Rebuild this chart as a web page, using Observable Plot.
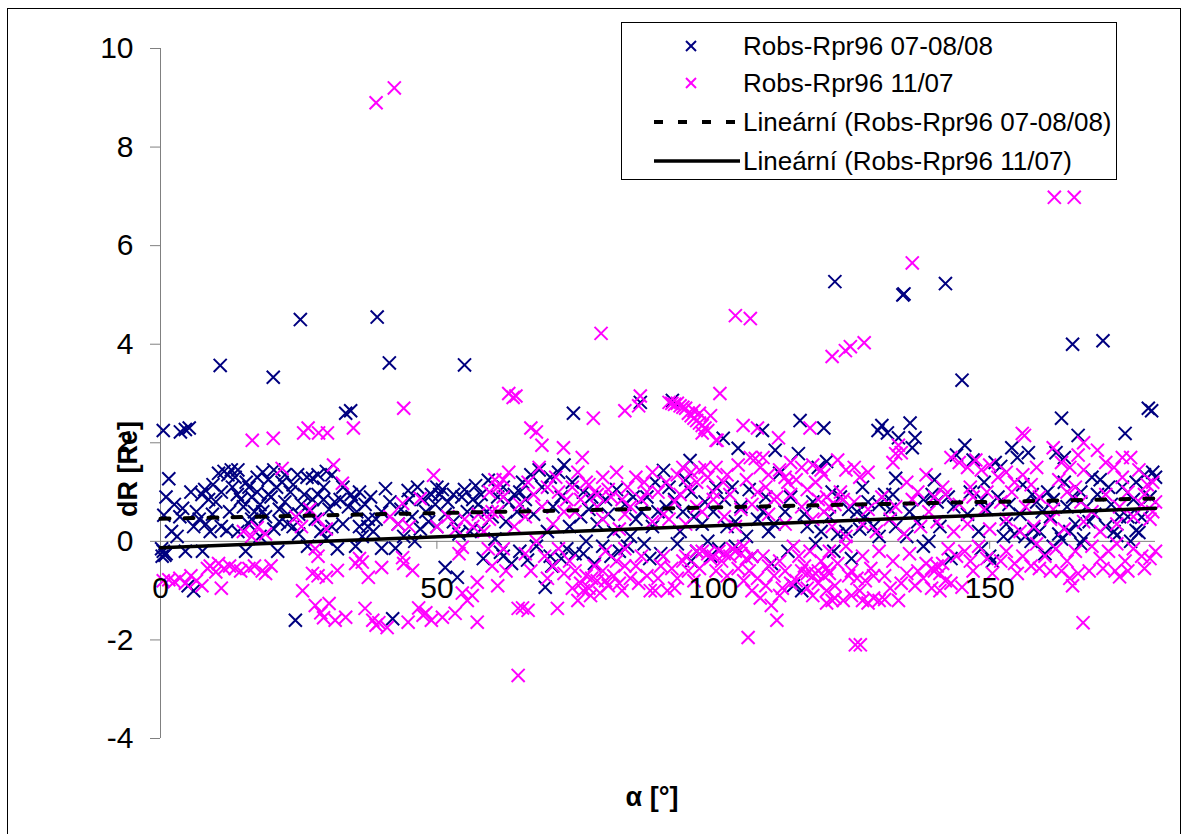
<!DOCTYPE html>
<html><head><meta charset="utf-8">
<script src="https://cdn.jsdelivr.net/npm/d3@7"></script>
<script src="https://cdn.jsdelivr.net/npm/@observablehq/plot@0.6"></script>
<style>
body{margin:0;background:#fff;font-family:"Liberation Sans",Arial,sans-serif;}
#wrap{position:relative;width:1188px;height:834px;overflow:hidden;background:#fff;}
#border{position:absolute;left:7px;top:8px;width:1174px;height:900px;border:1.5px solid #000;box-sizing:border-box;}
#chart{position:absolute;left:0;top:0;}
#legend{position:absolute;left:621px;top:22px;width:496px;height:158px;border:1px solid #000;background:#fff;box-sizing:border-box;}
.lg{position:absolute;left:121px;font-size:26px;line-height:30px;white-space:nowrap;color:#000;}
.title{position:absolute;font-weight:bold;font-size:27px;line-height:32px;white-space:nowrap;color:#000;}
</style></head>
<body>
<div id="wrap"><div id="border"></div><div id="chart"></div><div id="legend"></div>
<div id="ytitle" class="title"></div><div id="xtitle" class="title"></div></div>
<script>
// ---- data (alpha [deg], dR [Re]) ----
const seriesNames = ["Robs-Rpr96 07-08/08", "Robs-Rpr96 11/07", "Lineární (Robs-Rpr96 07-08/08)", "Lineární (Robs-Rpr96 11/07)"];
const xTicks = [0, 50, 100, 150];
const yTicks = [-4, -2, 0, 2, 4, 6, 8, 10];
const xTitle = "α [°]";
const yTitle = "dR [Re]";

const navy = [
[0.3,-0.3],[0.5,-0.2],[0.8,-0.28],[0.2,-0.15],[1.0,-0.25],[0.6,0.53],[1.5,1.27],[0.5,2.25],[3.6,2.22],[4.5,2.27],[5.2,2.3],[4.5,-0.2],[5,-0.9],[6,-1.0],[4,0.67],[7.6,-0.2],[7.5,0.95],[8,1.05],[8.7,0.85],[7,0.45],[8.2,0.35],[9.4,0.55],[9,0.2],[11,0.3],[12,0.22],[10.8,3.57],[10.5,1.38],[11.5,1.42],[12.2,1.35],[12.8,1.45],[13.5,1.3],[13.9,0.95],[14.5,0.85],[15.4,-0.2],[15,0.7],[16,1.1],[16.5,0.9],[17,0.6],[17.5,1.0],[18,0.75],[18.5,1.4],[19,0.5],[19.5,1.25],[20.4,3.33],[20,0.9],[21,1.1],[21.2,-0.2],[21.5,0.4],[22,1.2],[22.5,0.8],[23,0.55],[23.5,1.0],[24,0.3],[24.4,-1.6],[24.8,1.35],[25.3,4.5],[25.5,0.75],[26,0.95],[26.6,-0.1],[27,0.6],[27.5,1.28],[28,0.45],[28.5,1.35],[29,0.2],[29.5,0.85],[30,1.42],[30.5,0.65],[31,0.3],[32,-0.15],[32.5,0.85],[33.5,2.6],[34.4,2.65],[34,0.7],[34.5,0.95],[35.3,-0.1],[35.5,0.6],[36,0.3],[37,0.75],[37.6,0.45],[38.5,0.2],[39.2,4.55],[40,-0.14],[40.7,1.07],[41.4,3.62],[42,-1.57],[42.5,-0.14],[43,0.35],[44.8,1.03],[45.5,0.5],[46,0.0],[47,0.25],[48,0.6],[49.7,0.75],[50.5,0.95],[51,1.05],[51.5,-0.53],[52,0.8],[53,0.4],[53.7,-0.73],[54.5,0.9],[55,3.58],[55.5,0.6],[56,0.2],[57,1.13],[57.5,0.75],[58.4,-0.35],[59.3,1.24],[60,0.5],[60.5,0.05],[61.5,-0.22],[62.5,0.4],[63,0.8],[64,0.95],[65,1.0],[65.5,1.2],[66.4,-0.38],[67,1.35],[67.5,0.55],[68.5,1.45],[69.6,-0.93],[70,0.2],[70.5,-0.3],[71,0.7],[72,1.4],[73,1.55],[73.5,-0.15],[74,0.3],[74.7,2.6],[75,-0.25],[76,0.5],[77,0.0],[78,0.9],[79,0.35],[80,-0.1],[81,0.55],[82,0.2],[83,-0.2],[84,0.75],[85,0.1],[86,0.45],[86.8,2.82],[87.5,-0.05],[88,0.9],[89,0.3],[90,0.6],[91,1.44],[92,1.1],[92.6,2.86],[93,0.85],[94,0.2],[95,1.25],[95.8,1.64],[96.5,0.5],[97,-0.2],[98,0.35],[99,0.0],[100,0.6],[101,-0.15],[101.8,2.09],[102.5,0.3],[103.4,1.1],[104.5,1.89],[105,0.7],[106,0.1],[107,-0.3],[108,0.45],[108.9,2.25],[109.5,0.9],[110,0.2],[111.2,1.85],[112,1.38],[113,0.6],[114.5,-0.9],[115.4,1.78],[115.7,2.45],[116,-1.0],[117,0.3],[118,0.8],[119,1.5],[120,2.3],[120.5,1.62],[121,0.5],[121.8,-0.2],[122,5.27],[123,0.9],[124,0.2],[125,-0.35],[126,0.6],[127,1.1],[128,0.8],[129,0.3],[129.8,2.25],[130.5,2.35],[131,0.95],[131.5,2.2],[132,0.65],[133,1.28],[133.5,2.1],[134.3,5.0],[134.5,5.02],[135,0.1],[135.6,2.4],[136,1.9],[136.5,2.1],[137,0.4],[138,-0.1],[139,0.0],[139.6,0.95],[140.5,0.8],[141,0.3],[142,5.23],[142.5,0.9],[143,-0.35],[144,1.75],[145,3.27],[145.5,1.95],[146,0.55],[147,1.65],[148,0.2],[148.6,0.85],[149.5,0.65],[150.5,-0.4],[151,1.6],[152,1.52],[152.5,0.1],[153,0.35],[154,1.9],[155,1.7],[155.5,0.55],[156.4,0.1],[157,1.8],[157.7,0.95],[158.5,0.8],[159,0.2],[160,-0.25],[160.5,1.0],[161,0.5],[162,1.8],[162.5,0.15],[163,2.5],[163.5,1.7],[164,0.7],[165,4.0],[165.5,0.35],[166,2.15],[166.5,1.0],[167,0.05],[168,0.4],[168.5,1.3],[169,0.55],[170,1.25],[170.5,4.07],[171,0.3],[172,0.75],[173,0.12],[174,1.1],[174.5,2.19],[175,0.5],[176,0.85],[177,0.18],[177.5,0.49],[178,1.35],[178.7,2.7],[179.3,2.65],[179.5,1.4],[180,1.3],
[62,-0.3],[63.5,-0.45],[65,-0.2],[68,-0.1],[70.8,-0.5],[72.5,-0.35],[76.5,-0.25],[78.5,-0.45],[81.5,-0.3],[84.5,-0.1],[88.5,-0.35],[90.5,-0.25],[93.5,-0.05],[96,-0.4],[99.5,-0.3],[104,-0.1],[110.5,-0.45],[113.5,-0.2],[118.5,-0.05],[122.5,0.15],[126.5,0.25],[130,0.1],[133,0.3],[148.5,-0.15],[150,-0.3],[154.5,0.15],[157.5,0.0],[158,0.25],[161.5,-0.1],[163,0.05],[164.5,0.2],[166.5,-0.05],[172.5,0.2],[175.5,0.0],[176.5,0.22],[2,0.2],[3,0.1],[6.5,0.6],[14,0.2],[16,0.35],[18,0.1],[20.5,0.25],[25,0.15],[30,0.05],[33,0.35],[36.5,0.1],[39,0.45],[44,0.1],[47.5,0.85],[50,0.3],[54,0.15],[58,0.25],
[1,0.9],[2.5,0.75],[3.5,0.5],[5.5,1.0],[6,0.3],[9.5,1.15],[10,0.8],[11,1.0],[12.5,0.6],[13,1.1],[14,1.45],[15.5,1.2],[16.5,0.45],[17.5,1.3],[18.5,0.6],[19.5,0.95],[20.5,1.45],[21.5,0.65],[22.5,1.35],[23,0.35],[24,1.15],[25,0.55],[26.5,1.3],[27.5,0.85],[28.5,0.95],[29.5,1.1],[31,1.35],[31.5,0.8],[33,1.1],[35,0.85],[36,1.0],[37.5,0.3],[38,0.9],[40,0.6],[41.5,0.8],[43.5,0.65],[45,0.85],[46.5,1.1],[48.5,0.4],[49,0.95],[50,1.1],[51.5,0.55],[53,0.95],[55,1.05],[56.5,0.85],[58,0.95],[59,0.6],
[61,0.9],[62,1.1],[64.5,0.6],[66,0.85],[69,1.1],[70.5,1.3],[72.5,0.9],[74.5,1.2],[76.5,1.0],[77.5,0.65],[80.5,0.85],[82.5,1.05],[85.5,0.9],[87,0.6],[89.5,1.2],[91.5,0.7],[94.5,0.6],[96,1.0],[98.5,0.8],[100.5,1.1],[102,0.85],[104,0.4],[106.5,1.05],[109,0.6],[111,0.35],[114,0.9],[116.5,0.55],[119.5,0.2],
[121.5,1.0],[124.5,0.65],[127.5,0.5],[130,0.75],[132.5,0.95],[135.5,0.6],[138,0.85],[140,1.25],[143.5,0.7],[146.5,1.0],[149,1.2],[151.5,0.9],[153.5,0.75],[156,1.15],[159.5,0.6],[161.5,0.85],[163.5,1.2],[165,0.9],[167.5,0.7],[169.5,0.95],[171.5,1.1],[173.5,0.5],[176.5,1.2],[179,0.9]
];

const pink = [
[0.5,-0.8],[1.5,-0.78],[2.5,-0.82],[3.5,-0.75],[4.5,-0.85],[5.5,-0.7],[6.5,-0.8],[7.5,-0.9],[8.5,-0.55],[9,-0.5],[10,-0.62],[10.5,-0.45],[11,-0.95],[11.5,-0.55],[12.5,-0.5],[13.5,-0.55],[14.5,-0.6],[16,-0.55],[17,-0.5],[18.4,-0.6],[19,-0.65],[20,-0.5],
[15,0.2],[16.5,0.1],[17.5,0.28],[19,0.15],
[25.7,-1.0],[27.5,-0.65],[28.5,-0.7],[30,-0.73],[28,-1.3],[29,-1.45],[30.5,-1.26],[31.6,-1.6],[29.5,-1.55],[32,-0.59],[33.5,-1.54],[35.3,-0.45],[36.5,-0.42],[37,-1.36],[37.6,-0.73],[38.4,-1.6],[39,-1.7],[39.5,-1.65],[40,-0.53],[41,-1.75],[43.8,-0.33],[44,-0.45],[44.8,-1.64],[45.6,-0.59],[46.7,-1.35],[47.5,-1.5],[48,-1.45],[49,-1.6],[51,-1.54],[53.3,-1.46],[54.6,-1.05],[55.5,-1.2],[56.4,-1.1],[57.3,-1.64],[57.3,-0.83],[54.6,-0.12],[59.3,-0.15],[28,-0.15],[28.5,-0.3],[36,-0.35],[54,-0.25],
[16.6,2.05],[20.4,2.09],[25.9,2.2],[26.7,2.3],[28.6,2.2],[30.2,2.2],[34.9,2.3],[44,2.7],[31.3,1.55],[32.9,1.18],[22,1.48],[49.4,1.34],[43.8,0.77],[47,0.87],[39,8.9],[42.3,9.2],
[24.5,0.5],[25.5,0.3],[27,0.65],[28.5,0.45],[30,0.25],[41.5,0.5],[43,0.35],[45,0.3],[50,0.3],[52,0.5],[53.5,0.25],[55,0.45],[56.5,0.3],[57.5,0.55],[58.5,0.2],[59.5,0.45],[60,0.6],[59.5,1.0],[60.5,1.25],
[63,3.0],[63.8,2.92],[64.3,2.95],[67,2.3],[68,2.22],[69,1.95],[72.9,1.9],[76.3,1.7],[78.3,2.5],[79.7,4.22],[84,2.65],[86.5,2.75],[86.8,2.95],
[92,2.82],[92.5,2.8],[93,2.78],[93.5,2.8],[94,2.75],[94.5,2.72],[95,2.7],[95.5,2.6],[96,2.55],[96.5,2.5],[97,2.45],[97.5,2.4],[98,2.35],[98.5,2.3],[99,2.25],[99.5,2.55],[97.5,2.6],[96.5,2.65],[98,2.2],[100.5,2.05],[101.2,3.0],
[104,4.58],[106.7,4.52],[105.4,2.35],[108,2.3],[111.8,2.1],[117.5,2.3],[107.6,1.68],[100.7,2.05],
[61,1.1],[62,1.25],[72,1.0],[73.5,0.85],[75.5,1.4],[77,1.2],[78.5,1.0],[77.5,1.15],[79,0.95],[82.5,1.4],[84.5,1.1],[86,1.3],[88,1.0],[94.5,1.5],[96,1.4],[97.5,1.45],[99,1.3],[100.5,1.5],[101.8,1.2],[97,1.2],[100,1.0],[106.7,1.7],[108.5,1.5],[110,1.35],[112,1.45],[113,1.3],[114,1.6],[116,1.5],[118,1.55],[119.5,1.45],[109.5,1.1],[111.5,0.9],[113.5,1.2],
[63,1.4],[66.5,1.2],[68.5,1.5],[71.5,1.3],[74.5,1.1],[80,1.3],[81,1.05],[83.5,0.85],[87.5,1.2],[89,1.4],[91.5,1.2],[93.5,1.35],[95.5,1.1],[98.5,1.5],[102.5,1.35],[104.5,1.55],[106,1.25],[109,1.7],[115,1.25],[118.5,1.2],[120,1.35],
[61,0.6],[64,0.3],[66,0.5],[69,0.7],[71,0.35],[75,0.6],[80,0.45],[83,0.25],[85,0.7],[89,0.4],[91,0.55],[93,0.8],[95,0.35],[98,0.6],[102,0.5],[104,0.3],[107,0.75],[110,0.55],[113,0.35],[116,0.7],[118,0.45],[120,0.6],
[62,0.9],[65,0.75],[67.5,0.95],[70,1.1],[73,0.6],[76,0.85],[79,0.7],[81.5,0.9],[84,0.55],[87,0.85],[90,1.0],[92,0.45],[94,0.95],[97,0.7],[100,0.85],[103,0.95],[105,0.65],[108,1.0],[111,0.85],[114,0.95],[117,1.05],[119,0.85],
[60,-0.5],[61,-0.9],[62.5,-0.6],[68,0.0],[69.5,-0.3],[71,-0.5],[72,-0.15],[73,-0.65],[74,-0.4],[75,-0.6],[76,-0.85],[77,-0.7],[77.5,-0.95],[78,-0.75],[79,-0.8],[80,-0.6],[81,-0.9],[82,-0.7],[83,-0.85],[84,-0.5],[85,-0.75],[76.5,-1.0],[79.5,-1.05],[75.5,-1.2],[77.8,-1.1],
[80.5,-0.2],[82.5,-0.4],[84,-0.15],[86,-0.5],[87,-0.3],[88,-0.7],[89.5,-1.0],[90.5,-0.5],[88.6,-1.0],[91.7,-1.0],[91,-0.3],[92.5,-0.55],[93.5,-0.75],[94.5,-0.4],[95.5,-0.6],[96.5,-0.8],[97,-0.2],
[98,-0.2],[99,-0.25],[100,-0.3],[101,-0.2],[102,-0.25],[103,-0.3],[104,-0.2],[105,-0.25],[106,-0.35],[107,-0.3],[99.5,-0.35],[101.5,-0.4],[103.5,-0.15],[105.5,-0.1],
[105.5,-0.8],[107,-1.0],[108.5,-1.15],[109.5,-0.9],[110.5,-1.3],[111.5,-1.6],[112.5,-0.95],[109,-0.3],[110,-0.5],[111,-0.7],[112,-0.4],[113,-0.6],[114,-0.85],
[114.5,-0.1],[115.5,-0.3],[116.5,-0.5],[117.5,-0.2],[118.5,-0.65],[119.5,-0.4],[120.5,-0.55],[116,-0.6],[117,-0.65],[118,-0.7],[119,-0.6],[120,-0.7],[121,-0.65],[118,-1.1],[120.5,-1.25],
[62,-0.15],[66,-0.25],[67,-0.6],[70,-0.75],[74.5,-0.95],[78.5,-0.5],[80.5,-0.8],[83.5,-1.0],[86.5,-0.85],[90,-0.75],[93,-0.95],[95,-0.3],[97.5,-0.55],[100.5,-0.6],[102.5,-0.7],[104.5,-0.55],[106.5,-0.6],[108,-0.75],[112,-1.1],[115,-0.8],[117,-0.95],[119,-0.85],
[64.7,-2.72],[64.7,-1.36],[65.5,-1.35],[66.5,-1.4],[71.8,-1.36],[106.3,-1.95],
[121.5,3.75],[123.9,3.87],[124.8,3.95],[127.3,4.03],[136,5.65],[161.7,6.98],[165.3,6.98],
[155.9,2.19],[156.3,2.15],[132.5,1.6],[133.5,1.95],[134,1.8],[122.5,1.65],[124,1.45],[125.5,1.5],[126.5,1.3],[128,1.4],[120.5,0.9],[122,0.75],[123.5,0.85],
[143,1.7],[144.5,1.6],[146,1.5],[147.5,1.65],[148.5,1.45],[146.5,1.1],[149.5,1.0],[150,1.55],[151.5,1.3],[153,1.4],[154.5,1.2],[156,1.35],[157.5,1.15],[158.5,1.5],
[161.5,1.9],[163,1.6],[164.5,1.5],[166,1.75],[167,1.45],[162.5,1.25],[165.5,1.1],[167,2.0],
[169.5,1.85],[171,1.6],[172.5,1.5],[174,1.3],[174,1.7],[175.5,1.7],[177,1.45],[178.5,1.15],[179.5,1.2],[178,0.95],[180,0.8],
[135,1.2],[137,1.0],[138.5,1.35],[140,0.9],[141.5,1.1],[133,1.78],
[121,-0.2],[122.5,-0.45],[124,-0.1],[125,-0.6],[126,-0.75],[127,-0.3],[128.5,-0.55],[130,-0.2],[131,-0.7],[132.5,-0.4],[134,-0.85],[135.5,-0.25],[137,-0.6],
[138.5,-0.45],[139.5,-0.55],[140,-0.6],[140.5,-0.5],[141,-0.65],[141.5,-0.45],[139.5,-0.95],[141,-1.0],[143,-0.85],[145,-0.93],[142.5,-0.15],[144,-0.3],[145.5,-0.2],[146.5,-0.4],[148,-0.1],[149.5,-0.35],
[153,-0.2],[154.5,-0.45],[156,-0.3],[157.5,-0.5],[158.5,-0.05],[160,-0.3],[162,-0.15],[164,-0.4],[165.5,-0.2],[163,-0.6],[164.5,-0.75],[165,-0.9],[166,-0.65],
[168.5,-0.1],[170,-0.35],[171.5,-0.2],[173,-0.05],[174.5,-0.4],[176,-0.15],[177.5,-0.3],[179,-0.35],[180,-0.2],[172.7,-0.6],[173.5,-0.72],[166.9,-1.65],[125.7,-2.1],[126.6,-2.1],
[122,-1.15],[123.5,-1.2],[125,-1.1],[127,-1.2],[128,-1.25],[129,-1.15],[130,-1.2],[131,-1.18],[133.5,-1.2],[124.5,-0.7],[127.5,-0.8],[120.5,-1.0],[121.5,-1.2],
[122,-0.9],[126.5,-1.0],[129,-0.7],[132,-0.95],[135,-0.65],[136.5,-0.9],[138,-0.75],[142,-0.8],[147,-0.6],[150.5,-0.65],[152,-0.4],[155,-0.65],[159,-0.55],[161,-0.6],[168,-0.6],[170.5,-0.55],[175,-0.6],[178,-0.55],
[121.5,0.3],[124,0.1],[127,0.35],[129.5,0.2],[132,0.45],[134.5,0.15],[137.5,0.3],[140.5,0.4],[143.5,0.2],[146,0.35],[150,0.25],[153,0.45],[155.5,0.2],[158,0.3],[161,0.45],[163.5,0.25],[167,0.4],[170,0.2],[173,0.35],[176,0.5],[179,0.45],
[121,0.7],[123,1.0],[125.5,0.8],[128,0.65],[130.5,0.9],[133,0.7],[136,0.85],[139,0.6],[142,0.95],[144.5,0.75],[147,0.9],[149,0.65],[152,0.8],[154,1.0],[156.5,0.7],[159,0.9],[161.5,0.65],[164,1.0],[166.5,0.8],[168.5,0.6],[171,0.95],[173.5,0.7],[175,1.0],[177.5,0.75],[179.5,0.6]
];

// linear trend lines (end points)
const trendA = [[0, 0.46], [180, 0.87]];
const trendB = [[0, -0.13], [180, 0.67]];

const navyColor = "#000080", pinkColor = "#ff00ff", axisGray = "#808080";
const font = "'Liberation Sans', Arial, sans-serif";

const chart = Plot.plot({
  width: 1188, height: 834,
  marginLeft: 160, marginRight: 33, marginTop: 48, marginBottom: 96,
  style: {background: "transparent", fontFamily: font, overflow: "visible", color: "#000"},
  x: {domain: [0, 180], axis: null},
  y: {domain: [-4, 10], axis: null},
  marks: [
    Plot.ruleY([0], {stroke: axisGray, strokeWidth: 1}),
    Plot.ruleX([0], {stroke: axisGray, strokeWidth: 1}),
    Plot.axisY({ticks: yTicks, tickSize: 10, tickPadding: 17, fontSize: 30, stroke: axisGray, label: null, tickFormat: d => d}),
    Plot.ruleX(xTicks, {x: d => d, y1: d => 0, y2: d => 0, insetBottom: -8, stroke: axisGray}),
    Plot.dot(navy, {x: d => d[0], y: d => d[1], symbol: "times", r: 6, stroke: navyColor, strokeWidth: 2}),
    Plot.dot(pink, {x: d => d[0], y: d => d[1], symbol: "times", r: 6, stroke: pinkColor, strokeWidth: 2}),
    Plot.line(trendA, {x: d => d[0], y: d => d[1], stroke: "#000", strokeWidth: 4, strokeDasharray: "9,15"}),
    Plot.line(trendB, {x: d => d[0], y: d => d[1], stroke: "#000", strokeWidth: 3.5}),
    Plot.text(xTicks, {x: d => d, y: d => 0, dy: 47, fontSize: 30, fill: "#000", text: d => String(d)})
  ]
});
document.getElementById("chart").appendChild(chart);

// axis titles
const yt = document.getElementById("ytitle");
yt.textContent = yTitle;
yt.style.left = "128px"; yt.style.top = "469px";
yt.style.transform = "translate(-50%,-50%) rotate(-90deg)";
const xt = document.getElementById("xtitle");
xt.textContent = xTitle;
xt.style.left = "652px"; xt.style.top = "797px";
xt.style.transform = "translate(-50%,-50%)";

// legend
const lg = document.getElementById("legend");
const rowY = [23, 60, 99, 138];
const ns = "http://www.w3.org/2000/svg";
const svg = document.createElementNS(ns, "svg");
svg.setAttribute("width", 494); svg.setAttribute("height", 156);
svg.style.position = "absolute"; svg.style.left = "0"; svg.style.top = "0";
function el(tag, attrs) { const e = document.createElementNS(ns, tag); for (const k in attrs) e.setAttribute(k, attrs[k]); svg.appendChild(e); return e; }
[[navyColor, rowY[0]], [pinkColor, rowY[1]]].forEach(([c, y]) => {
  el("line", {x1: 64, y1: y - 5, x2: 74, y2: y + 5, stroke: c, "stroke-width": 2});
  el("line", {x1: 74, y1: y - 5, x2: 64, y2: y + 5, stroke: c, "stroke-width": 2});
});
el("line", {x1: 32, y1: rowY[2], x2: 118, y2: rowY[2], stroke: "#000", "stroke-width": 4, "stroke-dasharray": "9,15"});
el("line", {x1: 32, y1: rowY[3], x2: 118, y2: rowY[3], stroke: "#000", "stroke-width": 3.5});
lg.appendChild(svg);
seriesNames.forEach((name, i) => {
  const d = document.createElement("div");
  d.className = "lg"; d.textContent = name; d.style.top = (rowY[i] - 15) + "px";
  lg.appendChild(d);
});
</script>
</body></html>
